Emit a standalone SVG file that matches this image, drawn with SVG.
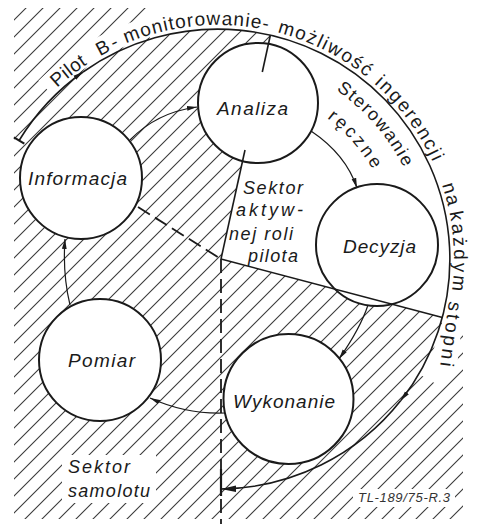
<svg xmlns="http://www.w3.org/2000/svg" width="492" height="524" viewBox="0 0 492 524">
<style>
 .t{font-family:"Liberation Sans","DejaVu Sans",Arial,sans-serif;fill:#1a1a1a}
 .lbl{font-size:19px;font-style:italic}
 .sek{font-size:18px;font-style:italic}
 .arct{font-size:19px}
 .arci{font-size:18px}
 .small{font-size:13px;font-style:italic;fill:#333}
 .node circle{fill:#fff;stroke:#1a1a1a;stroke-width:2}
 .conn{fill:none;stroke:#1a1a1a;stroke-width:1.2}
 .dash{fill:none;stroke:#1a1a1a;stroke-width:1.8;stroke-dasharray:14 6}
 .heavy{fill:none;stroke:#1a1a1a;stroke-width:1.6}
 .bar{fill:none;stroke:#1a1a1a;stroke-width:2.2}
</style>
<defs>
 <pattern id="hatch" patternUnits="userSpaceOnUse" width="17" height="17">
  <path d="M0,17 L17,0 M-3,3 L3,-3 M14,20 L20,14" stroke="#3a3a3a" stroke-width="1.1"/>
 </pattern>
 <mask id="hm" maskUnits="userSpaceOnUse" x="0" y="0" width="492" height="524">
  <rect x="14" y="8" width="449" height="511" fill="#fff"/>
  <path d="M221,259 L270.4,35 A232 230 0 0 1 442.4,317.4 Z" fill="#000"/>
  <path d="M150,0 L492,0 L492,325 L442.4,317.4 A232 230 0 0 0 150,39.1 Z" fill="#000"/>
  <path d="M45.5,87.9 A244 242 0 0 1 429.3,380" fill="none" stroke="#000" stroke-width="20"/>
  <path d="M455,298 L446,374" fill="none" stroke="#000" stroke-width="20"/>
  <rect x="62" y="455" width="94" height="48" fill="#000"/>
  <rect x="353" y="489" width="102" height="18" fill="#000"/>
 </mask>
 <marker id="ah" markerUnits="userSpaceOnUse" markerWidth="11" markerHeight="6" refX="10" refY="3" orient="auto">
  <path d="M0,0.6 L10,3 L0,5.4 Z" fill="#1a1a1a"/>
 </marker>
 <marker id="ahb" markerUnits="userSpaceOnUse" markerWidth="16" markerHeight="8" refX="15" refY="4" orient="auto">
  <path d="M0,0.8 L15,4 L0,7.2 Z" fill="#1a1a1a"/>
 </marker>
 <path id="w1" d="M57.1,87.9 A236 234 0 0 1 87.8,63.9"/>
 <path id="w2" d="M100,56.4 A236 234 0 0 1 122.8,44.9"/>
 <path id="w3" d="M126.2,43.4 A236 234 0 0 1 269.1,30.5"/>
 <path id="w4" d="M277.1,32.5 A236 234 0 0 1 368.1,78.4"/>
 <path id="w5" d="M374.1,83.5 A236 234 0 0 1 433.6,163.8"/>
 <path id="w6" d="M441.8,184.8 A236 234 0 0 1 448.4,208.4"/>
 <path id="w7" d="M449.3,212.3 A236 234 0 0 1 451.4,293.6"/>
 <path id="w8" d="M449,301 L439.5,371"/>
 <path id="pSter" d="M336.1,90.1 A205 205 0 0 1 404.3,169.1"/>
 <path id="pRecz" d="M327,118 A177 177 0 0 1 374.4,172.4"/>
</defs>
<rect width="492" height="524" fill="#fff"/>
<rect width="492" height="524" fill="url(#hatch)" mask="url(#hm)"/>

<g id="connectors">
 <path class="heavy" d="M19.1,140.5 A232 230 0 0 1 83,72" marker-end="url(#ah)"/>
 <path class="heavy" d="M83,72 A232 230 0 0 1 400.8,400.6" marker-end="url(#ah)"/>
 <path class="heavy" d="M400.8,400.6 A232 230 0 0 1 221,489" marker-end="url(#ahb)"/>
 <line class="bar" x1="13.9" y1="137.4" x2="24.3" y2="143.6"/>
 <line class="bar" x1="221" y1="469" x2="221" y2="496"/>
 <path class="dash" d="M138,207 L221,259"/>
 <path class="dash" d="M221,259 L221,524"/>
</g>

<g id="node-analiza" class="node">
 <circle cx="258" cy="103" r="60"/>
 <text class="t lbl" x="217" y="115" textLength="71" lengthAdjust="spacing">Analiza</text>
</g>
<g id="node-informacja" class="node">
 <circle cx="81" cy="178" r="61"/>
 <text class="t lbl" x="28" y="185" textLength="99" lengthAdjust="spacing">Informacja</text>
</g>
<g id="node-decyzja" class="node">
 <circle cx="377" cy="245" r="61"/>
 <text class="t lbl" x="343" y="253" textLength="73" lengthAdjust="spacing">Decyzja</text>
</g>
<g id="node-pomiar" class="node">
 <circle cx="100" cy="360" r="61"/>
 <text class="t lbl" x="68" y="367" textLength="67" lengthAdjust="spacing">Pomiar</text>
</g>
<g id="node-wykonanie" class="node">
 <circle cx="288.5" cy="399" r="65"/>
 <text class="t lbl" x="233" y="408" textLength="102" lengthAdjust="spacing">Wykonanie</text>
</g>

<g id="connectors-flow">
 <path class="conn" d="M130,140 Q156.5,112.5 197,107" marker-end="url(#ah)"/>
 <path class="conn" d="M311,131 Q346,154.5 357,188" marker-end="url(#ah)"/>
 <path class="conn" d="M368,305 Q360.5,328 339,359" marker-end="url(#ah)"/>
 <path class="conn" d="M225,413 Q186.5,414.5 150,398" marker-end="url(#ah)"/>
 <path class="conn" d="M70,305 Q62.5,274 65,239" marker-end="url(#ah)"/>
 <path class="heavy" d="M270.4,35 L262.3,72"/>
 <path class="heavy" d="M245,150 L221,259"/>
 <path class="heavy" d="M221,259 L442.4,317.4"/>
</g>

<g id="labels">
 <text class="t arct" letter-spacing="0.4"><textPath href="#w1">Pilot</textPath></text>
 <text class="t arct" letter-spacing="3"><textPath href="#w2">B-</textPath></text>
 <text class="t arct" letter-spacing="1.1"><textPath href="#w3">monitorowanie-</textPath></text>
 <text class="t arct" letter-spacing="1.6"><textPath href="#w4">możliwość</textPath></text>
 <text class="t arct" letter-spacing="1.9"><textPath href="#w5">ingerencji</textPath></text>
 <text class="t arct" letter-spacing="1.4"><textPath href="#w6">na</textPath></text>
 <text class="t arct" letter-spacing="2.6"><textPath href="#w7">każdym</textPath></text>
 <text class="t arct" letter-spacing="2.9"><textPath href="#w8">stopni</textPath></text>
 <text class="t arci" letter-spacing="1.5"><textPath href="#pSter">Sterowanie</textPath></text>
 <text class="t arci" letter-spacing="3"><textPath href="#pRecz">ręczne</textPath></text>
 <text class="t sek" x="243" y="194" textLength="60" lengthAdjust="spacing">Sektor</text>
 <text class="t sek" x="236" y="216" textLength="67" lengthAdjust="spacing">aktyw-</text>
 <text class="t sek" x="229" y="240" textLength="64" lengthAdjust="spacing">nej roli</text>
 <text class="t sek" x="248" y="262" textLength="50" lengthAdjust="spacing">pilota</text>
 <text class="t sek" x="68" y="473" textLength="62" lengthAdjust="spacing">Sektor</text>
 <text class="t sek" x="68" y="497" textLength="82" lengthAdjust="spacing">samolotu</text>
 <text class="t small" x="358" y="502" textLength="92" lengthAdjust="spacing">TL-189/75-R.3</text>
</g>
</svg>
